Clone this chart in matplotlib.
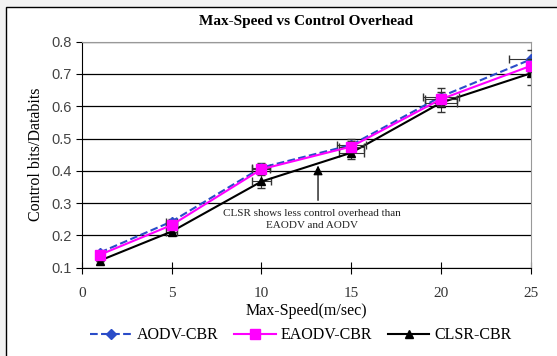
import numpy as np
import matplotlib.pyplot as plt
from matplotlib.patches import Rectangle
from matplotlib.lines import Line2D

# data
speed = [1, 5, 10, 15, 20, 25]
aodv = [0.147, 0.243, 0.41, 0.48, 0.63, 0.745]
eaodv = [0.14, 0.232, 0.405, 0.475, 0.622, 0.725]
clsr = [0.122, 0.212, 0.367, 0.456, 0.611, 0.702]

aodv_yerr = [0.0, 0.008, 0.015, 0.02, 0.028, 0.03]
eaodv_yerr = [0.0, 0.008, 0.015, 0.018, 0.022, 0.02]
clsr_yerr = [0.0, 0.006, 0.02, 0.02, 0.028, 0.035]
aodv_xerr = [0.0, 0.3, 0.5, 0.8, 1.0, 1.2]
eaodv_xerr = [0.0, 0.3, 0.5, 0.7, 0.9, 0.0]
clsr_xerr = [0.0, 0.3, 0.55, 0.7, 0.9, 0.0]

serif = 'Liberation Serif'
sans = 'Liberation Sans'

fig = plt.figure(figsize=(5.57, 3.56), dpi=100)
fig.patch.set_facecolor('#f2f2f2')
# white chart area with black border
fig.patches.append(Rectangle((6 / 557, -0.02), 1.0, 1 - 7 / 356 + 0.02,
                             transform=fig.transFigure, facecolor='white',
                             edgecolor='black', linewidth=1.0, zorder=-1))

ax = fig.add_axes([0.147, 0.248, 0.806, 0.635])
ax.set_zorder(1)

series = [
    (aodv, aodv_yerr, aodv_xerr, '#2a4cc8', '--', 'D', 5, 3),
    (eaodv, eaodv_yerr, eaodv_xerr, '#ff00ff', '-', 's', 7, 4),
    (clsr, clsr_yerr, clsr_xerr, 'black', '-', '^', 6, 2),
]
for vals, yerr, xerr, col, ls, mk, ms, z in series:
    eb = ax.errorbar(speed, vals, yerr=yerr, xerr=xerr, color=col,
                     linestyle=ls, linewidth=1.5, marker=mk, markersize=ms,
                     ecolor='#333333', elinewidth=0.8, capsize=3, zorder=z)
    for cap in eb[1]:
        cap.set_clip_on(True)

ax.set_xlim(0, 25)
ax.set_ylim(0.1, 0.8)
ax.set_xticks([0, 5, 10, 15, 20, 25])
ax.set_yticks(np.arange(0.1, 0.81, 0.1))
ax.set_yticklabels(['0.1', '0.2', '0.3', '0.4', '0.5', '0.6', '0.7', '0.8'],
                   fontfamily=sans, fontsize=10.5, color='#444444')
ax.set_xticklabels(['0', '5', '10', '15', '20', '25'], fontfamily=serif,
                   fontsize=11, color='#333333')
ax.tick_params(axis='x', direction='inout', length=8, pad=10)
ax.tick_params(axis='y', direction='out', length=4)
ax.yaxis.grid(True, color='black', linewidth=0.9)
ax.set_axisbelow(True)
ax.spines['top'].set_color('#999999')
ax.spines['right'].set_color('#999999')

ax.set_title('Max-Speed vs Control Overhead', fontfamily=serif,
             fontweight='bold', fontsize=11, pad=12)
ax.set_xlabel('Max-Speed(m/sec)', fontfamily=serif, fontsize=11.5, labelpad=2)
ax.set_ylabel('Control bits/Databits', fontfamily=serif, fontsize=11.5, labelpad=5)

ax.annotate('', xy=(13.15, 0.425), xytext=(13.15, 0.3),
            arrowprops=dict(arrowstyle='-|>', color='black', linewidth=0.9,
                            mutation_scale=14))
ax.text(12.8, 0.25, 'CLSR shows less control overhead than\nEAODV and AODV',
        fontfamily=serif, fontsize=8, ha='center', va='center',
        linespacing=1.5, color='#222222')

handles = [
    Line2D([], [], color='#2a4cc8', linestyle='--', linewidth=1.5, marker='D', markersize=5),
    Line2D([], [], color='#ff00ff', linestyle='-', linewidth=1.5, marker='s', markersize=7),
    Line2D([], [], color='black', linestyle='-', linewidth=1.5, marker='^', markersize=6),
]
fig.legend(handles, ['AODV-CBR', 'EAODV-CBR', 'CLSR-CBR'], loc='lower center',
           bbox_to_anchor=(0.54, -0.005), ncol=3, frameon=False,
           prop={'family': serif, 'size': 11.5}, handlelength=2.6,
           columnspacing=1.0, handletextpad=0.3)

fig.savefig('out.png', dpi=100)
